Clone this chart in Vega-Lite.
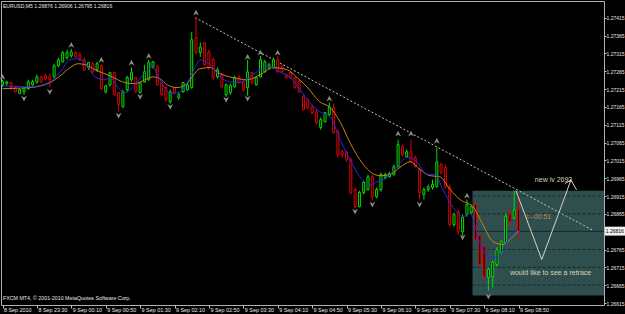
{
  "$schema": "https://vega.github.io/schema/vega-lite/v6.json",
  "width": 603,
  "height": 304,
  "autosize": "none",
  "padding": {"left": 1, "top": 1, "right": 21, "bottom": 9},
  "background": "#000000",
  "view": {"stroke": "#b0b0b0", "strokeWidth": 1, "fill": "#000000"},
  "config": {"font": "Liberation Sans", "axis": {"labelOverlap": false, "labelBound": false, "labelSeparation": 0}},
  "datasets": {
    "bars": [
      {"i":0,"o":1.27227,"h":1.27241,"l":1.27221,"c":1.27235},
      {"i":1,"o":1.27230,"h":1.27238,"l":1.27224,"c":1.27235},
      {"i":2,"o":1.27233,"h":1.27235,"l":1.27213,"c":1.27219},
      {"i":3,"o":1.27219,"h":1.27221,"l":1.27205,"c":1.27207},
      {"i":4,"o":1.27202,"h":1.27216,"l":1.27202,"c":1.27213},
      {"i":5,"o":1.27207,"h":1.27221,"l":1.27199,"c":1.27216},
      {"i":6,"o":1.27216,"h":1.27241,"l":1.27213,"c":1.27235},
      {"i":7,"o":1.27227,"h":1.27241,"l":1.27224,"c":1.27235},
      {"i":8,"o":1.27235,"h":1.27255,"l":1.27230,"c":1.27249},
      {"i":9,"o":1.27249,"h":1.27252,"l":1.27233,"c":1.27235},
      {"i":10,"o":1.27252,"h":1.27258,"l":1.27238,"c":1.27244},
      {"i":11,"o":1.27249,"h":1.27258,"l":1.27219,"c":1.27241},
      {"i":12,"o":1.27249,"h":1.27286,"l":1.27244,"c":1.27280},
      {"i":13,"o":1.27280,"h":1.27303,"l":1.27277,"c":1.27297},
      {"i":14,"o":1.27291,"h":1.27322,"l":1.27289,"c":1.27317},
      {"i":15,"o":1.27303,"h":1.27325,"l":1.27297,"c":1.27317},
      {"i":16,"o":1.27308,"h":1.27328,"l":1.27303,"c":1.27319},
      {"i":17,"o":1.27317,"h":1.27322,"l":1.27303,"c":1.27305},
      {"i":18,"o":1.27311,"h":1.27317,"l":1.27294,"c":1.27297},
      {"i":19,"o":1.27297,"h":1.27303,"l":1.27266,"c":1.27269},
      {"i":20,"o":1.27275,"h":1.27291,"l":1.27269,"c":1.27289},
      {"i":21,"o":1.27286,"h":1.27291,"l":1.27258,"c":1.27263},
      {"i":22,"o":1.27269,"h":1.27291,"l":1.27263,"c":1.27286},
      {"i":23,"o":1.27280,"h":1.27286,"l":1.27213,"c":1.27216},
      {"i":24,"o":1.27207,"h":1.27227,"l":1.27202,"c":1.27224},
      {"i":25,"o":1.27227,"h":1.27263,"l":1.27221,"c":1.27261},
      {"i":26,"o":1.27261,"h":1.27263,"l":1.27196,"c":1.27199},
      {"i":27,"o":1.27205,"h":1.27207,"l":1.27151,"c":1.27171},
      {"i":28,"o":1.27165,"h":1.27213,"l":1.27163,"c":1.27207},
      {"i":29,"o":1.27213,"h":1.27252,"l":1.27207,"c":1.27247},
      {"i":30,"o":1.27241,"h":1.27275,"l":1.27235,"c":1.27261},
      {"i":31,"o":1.27247,"h":1.27249,"l":1.27205,"c":1.27207},
      {"i":32,"o":1.27205,"h":1.27235,"l":1.27202,"c":1.27233},
      {"i":33,"o":1.27235,"h":1.27283,"l":1.27233,"c":1.27263},
      {"i":34,"o":1.27241,"h":1.27297,"l":1.27238,"c":1.27289},
      {"i":35,"o":1.27277,"h":1.27294,"l":1.27272,"c":1.27291},
      {"i":36,"o":1.27277,"h":1.27283,"l":1.27224,"c":1.27227},
      {"i":37,"o":1.27233,"h":1.27235,"l":1.27196,"c":1.27199},
      {"i":38,"o":1.27219,"h":1.27221,"l":1.27179,"c":1.27185},
      {"i":39,"o":1.27179,"h":1.27213,"l":1.27174,"c":1.27207},
      {"i":40,"o":1.27219,"h":1.27221,"l":1.27202,"c":1.27205},
      {"i":41,"o":1.27191,"h":1.27205,"l":1.27185,"c":1.27199},
      {"i":42,"o":1.27207,"h":1.27235,"l":1.27205,"c":1.27233},
      {"i":43,"o":1.27213,"h":1.27233,"l":1.27210,"c":1.27227},
      {"i":44,"o":1.27219,"h":1.27375,"l":1.27216,"c":1.27353},
      {"i":45,"o":1.27359,"h":1.27415,"l":1.27311,"c":1.27317},
      {"i":46,"o":1.27317,"h":1.27345,"l":1.27305,"c":1.27333},
      {"i":47,"o":1.27345,"h":1.27347,"l":1.27280,"c":1.27283},
      {"i":48,"o":1.27319,"h":1.27325,"l":1.27269,"c":1.27275},
      {"i":49,"o":1.27297,"h":1.27303,"l":1.27241,"c":1.27247},
      {"i":50,"o":1.27249,"h":1.27275,"l":1.27244,"c":1.27269},
      {"i":51,"o":1.27255,"h":1.27261,"l":1.27219,"c":1.27221},
      {"i":52,"o":1.27199,"h":1.27230,"l":1.27193,"c":1.27227},
      {"i":53,"o":1.27205,"h":1.27230,"l":1.27199,"c":1.27224},
      {"i":54,"o":1.27221,"h":1.27252,"l":1.27219,"c":1.27247},
      {"i":55,"o":1.27249,"h":1.27255,"l":1.27230,"c":1.27233},
      {"i":56,"o":1.27235,"h":1.27241,"l":1.27207,"c":1.27213},
      {"i":57,"o":1.27219,"h":1.27297,"l":1.27196,"c":1.27263},
      {"i":58,"o":1.27261,"h":1.27263,"l":1.27227,"c":1.27233},
      {"i":59,"o":1.27227,"h":1.27252,"l":1.27224,"c":1.27247},
      {"i":60,"o":1.27249,"h":1.27308,"l":1.27247,"c":1.27297},
      {"i":61,"o":1.27263,"h":1.27297,"l":1.27261,"c":1.27291},
      {"i":62,"o":1.27275,"h":1.27289,"l":1.27269,"c":1.27283},
      {"i":63,"o":1.27275,"h":1.27303,"l":1.27272,"c":1.27297},
      {"i":64,"o":1.27297,"h":1.27308,"l":1.27261,"c":1.27263},
      {"i":65,"o":1.27277,"h":1.27283,"l":1.27261,"c":1.27263},
      {"i":66,"o":1.27255,"h":1.27258,"l":1.27244,"c":1.27247},
      {"i":67,"o":1.27261,"h":1.27263,"l":1.27244,"c":1.27247},
      {"i":68,"o":1.27247,"h":1.27249,"l":1.27216,"c":1.27219},
      {"i":69,"o":1.27235,"h":1.27241,"l":1.27205,"c":1.27207},
      {"i":70,"o":1.27193,"h":1.27199,"l":1.27154,"c":1.27157},
      {"i":71,"o":1.27185,"h":1.27188,"l":1.27157,"c":1.27163},
      {"i":72,"o":1.27165,"h":1.27171,"l":1.27143,"c":1.27149},
      {"i":73,"o":1.27151,"h":1.27157,"l":1.27115,"c":1.27121},
      {"i":74,"o":1.27107,"h":1.27135,"l":1.27101,"c":1.27129},
      {"i":75,"o":1.27123,"h":1.27151,"l":1.27121,"c":1.27149},
      {"i":76,"o":1.27143,"h":1.27177,"l":1.27140,"c":1.27165},
      {"i":77,"o":1.27163,"h":1.27174,"l":1.27090,"c":1.27093},
      {"i":78,"o":1.27095,"h":1.27101,"l":1.27023,"c":1.27031},
      {"i":79,"o":1.27039,"h":1.27045,"l":1.27023,"c":1.27031},
      {"i":80,"o":1.27037,"h":1.27042,"l":1.27011,"c":1.27017},
      {"i":81,"o":1.27017,"h":1.27023,"l":1.26919,"c":1.26925},
      {"i":82,"o":1.26933,"h":1.26939,"l":1.26880,"c":1.26885},
      {"i":83,"o":1.26885,"h":1.26930,"l":1.26883,"c":1.26925},
      {"i":84,"o":1.26925,"h":1.26958,"l":1.26919,"c":1.26953},
      {"i":85,"o":1.26933,"h":1.26975,"l":1.26930,"c":1.26969},
      {"i":86,"o":1.26969,"h":1.26975,"l":1.26902,"c":1.26913},
      {"i":87,"o":1.26913,"h":1.26939,"l":1.26908,"c":1.26933},
      {"i":88,"o":1.26933,"h":1.26981,"l":1.26927,"c":1.26975},
      {"i":89,"o":1.26967,"h":1.26981,"l":1.26961,"c":1.26975},
      {"i":90,"o":1.26969,"h":1.26983,"l":1.26967,"c":1.26978},
      {"i":91,"o":1.26975,"h":1.27003,"l":1.26972,"c":1.26997},
      {"i":92,"o":1.26997,"h":1.27073,"l":1.26995,"c":1.27059},
      {"i":93,"o":1.27053,"h":1.27059,"l":1.27025,"c":1.27031},
      {"i":94,"o":1.27025,"h":1.27045,"l":1.27023,"c":1.27039},
      {"i":95,"o":1.27039,"h":1.27073,"l":1.27009,"c":1.27011},
      {"i":96,"o":1.27023,"h":1.27028,"l":1.26995,"c":1.26997},
      {"i":97,"o":1.26989,"h":1.26995,"l":1.26905,"c":1.26925},
      {"i":98,"o":1.26919,"h":1.26939,"l":1.26905,"c":1.26933},
      {"i":99,"o":1.26933,"h":1.26947,"l":1.26927,"c":1.26941},
      {"i":100,"o":1.26939,"h":1.26961,"l":1.26933,"c":1.26947},
      {"i":101,"o":1.26941,"h":1.27051,"l":1.26939,"c":1.27011},
      {"i":102,"o":1.27003,"h":1.27009,"l":1.26975,"c":1.26981},
      {"i":103,"o":1.26995,"h":1.27003,"l":1.26936,"c":1.26941},
      {"i":104,"o":1.26941,"h":1.26947,"l":1.26829,"c":1.26835},
      {"i":105,"o":1.26835,"h":1.26869,"l":1.26829,"c":1.26863},
      {"i":106,"o":1.26871,"h":1.26877,"l":1.26807,"c":1.26815},
      {"i":107,"o":1.26815,"h":1.26863,"l":1.26804,"c":1.26855},
      {"i":108,"o":1.26863,"h":1.26905,"l":1.26857,"c":1.26891},
      {"i":109,"o":1.26869,"h":1.26891,"l":1.26863,"c":1.26885},
      {"i":110,"o":1.26891,"h":1.26897,"l":1.26787,"c":1.26793},
      {"i":111,"o":1.26804,"h":1.26810,"l":1.26715,"c":1.26723},
      {"i":112,"o":1.26773,"h":1.26779,"l":1.26681,"c":1.26689},
      {"i":113,"o":1.26687,"h":1.26715,"l":1.26650,"c":1.26709},
      {"i":114,"o":1.26689,"h":1.26734,"l":1.26659,"c":1.26729},
      {"i":115,"o":1.26723,"h":1.26771,"l":1.26717,"c":1.26765},
      {"i":116,"o":1.26757,"h":1.26793,"l":1.26751,"c":1.26787},
      {"i":117,"o":1.26785,"h":1.26866,"l":1.26779,"c":1.26857},
      {"i":118,"o":1.26863,"h":1.26883,"l":1.26829,"c":1.26843},
      {"i":119,"o":1.26855,"h":1.26930,"l":1.26849,"c":1.26876},
      {"i":120,"o":1.26876,"h":1.26906,"l":1.26795,"c":1.26816}
    ],
    "ma": [
      {"i":0,"p":1.27216,"s":"slow"},{"i":6.4,"p":1.27219,"s":"slow"},{"i":11.05,"p":1.27233,"s":"slow"},{"i":13.4,"p":1.27252,"s":"slow"},{"i":15.7,"p":1.27275,"s":"slow"},{"i":17.6,"p":1.27286,"s":"slow"},{"i":19.2,"p":1.27283,"s":"slow"},{"i":21.5,"p":1.27269,"s":"slow"},{"i":25.0,"p":1.27252,"s":"slow"},{"i":28.5,"p":1.27233,"s":"slow"},{"i":30.8,"p":1.27230,"s":"slow"},{"i":33.1,"p":1.27241,"s":"slow"},{"i":35.0,"p":1.27249,"s":"slow"},{"i":36.6,"p":1.27244,"s":"slow"},{"i":38.3,"p":1.27227,"s":"slow"},{"i":40.6,"p":1.27219,"s":"slow"},{"i":42.9,"p":1.27230,"s":"slow"},{"i":44.1,"p":1.27249,"s":"slow"},{"i":45.9,"p":1.27272,"s":"slow"},{"i":48.3,"p":1.27275,"s":"slow"},{"i":50.6,"p":1.27258,"s":"slow"},{"i":53.6,"p":1.27247,"s":"slow"},{"i":56.9,"p":1.27241,"s":"slow"},{"i":59.9,"p":1.27255,"s":"slow"},{"i":62.9,"p":1.27275,"s":"slow"},{"i":66.2,"p":1.27269,"s":"slow"},{"i":68.5,"p":1.27247,"s":"slow"},{"i":70.8,"p":1.27221,"s":"slow"},{"i":73.8,"p":1.27179,"s":"slow"},{"i":76.2,"p":1.27163,"s":"slow"},{"i":78.5,"p":1.27123,"s":"slow"},{"i":80.8,"p":1.27065,"s":"slow"},{"i":83.1,"p":1.27017,"s":"slow"},{"i":85.5,"p":1.26983,"s":"slow"},{"i":87.8,"p":1.26972,"s":"slow"},{"i":90.1,"p":1.26975,"s":"slow"},{"i":92.4,"p":1.26995,"s":"slow"},{"i":94.8,"p":1.27011,"s":"slow"},{"i":97.1,"p":1.26989,"s":"slow"},{"i":99.4,"p":1.26972,"s":"slow"},{"i":101.7,"p":1.26969,"s":"slow"},{"i":104.1,"p":1.26933,"s":"slow"},{"i":106.4,"p":1.26905,"s":"slow"},{"i":109.4,"p":1.26885,"s":"slow"},{"i":111.7,"p":1.26835,"s":"slow"},{"i":114.1,"p":1.26787,"s":"slow"},{"i":116.4,"p":1.26779,"s":"slow"},{"i":118.0,"p":1.26793,"s":"slow"},{"i":120,"p":1.26818,"s":"slow"},
      {"i":0,"p":1.27224,"s":"fast"},{"i":6.4,"p":1.27221,"s":"fast"},{"i":11.05,"p":1.27235,"s":"fast"},{"i":13.4,"p":1.27263,"s":"fast"},{"i":15.7,"p":1.27297,"s":"fast"},{"i":17.6,"p":1.27300,"s":"fast"},{"i":19.2,"p":1.27289,"s":"fast"},{"i":21.5,"p":1.27249,"s":"fast"},{"i":23.8,"p":1.27241,"s":"fast"},{"i":25.0,"p":1.27247,"s":"fast"},{"i":27.3,"p":1.27213,"s":"fast"},{"i":28.5,"p":1.27205,"s":"fast"},{"i":30.8,"p":1.27227,"s":"fast"},{"i":33.1,"p":1.27261,"s":"fast"},{"i":34.8,"p":1.27277,"s":"fast"},{"i":36.6,"p":1.27241,"s":"fast"},{"i":39.0,"p":1.27202,"s":"fast"},{"i":41.3,"p":1.27207,"s":"fast"},{"i":43.6,"p":1.27247,"s":"fast"},{"i":44.8,"p":1.27277,"s":"fast"},{"i":45.9,"p":1.27297,"s":"fast"},{"i":48.3,"p":1.27283,"s":"fast"},{"i":50.6,"p":1.27249,"s":"fast"},{"i":52.9,"p":1.27235,"s":"fast"},{"i":55.2,"p":1.27233,"s":"fast"},{"i":57.6,"p":1.27249,"s":"fast"},{"i":59.9,"p":1.27269,"s":"fast"},{"i":62.2,"p":1.27277,"s":"fast"},{"i":64.5,"p":1.27263,"s":"fast"},{"i":66.9,"p":1.27247,"s":"fast"},{"i":69.2,"p":1.27213,"s":"fast"},{"i":71.5,"p":1.27177,"s":"fast"},{"i":73.8,"p":1.27151,"s":"fast"},{"i":76.2,"p":1.27137,"s":"fast"},{"i":78.5,"p":1.27073,"s":"fast"},{"i":80.8,"p":1.27017,"s":"fast"},{"i":83.1,"p":1.26969,"s":"fast"},{"i":85.5,"p":1.26947,"s":"fast"},{"i":87.1,"p":1.26955,"s":"fast"},{"i":89.4,"p":1.26967,"s":"fast"},{"i":91.7,"p":1.26997,"s":"fast"},{"i":94.1,"p":1.27023,"s":"fast"},{"i":96.4,"p":1.27011,"s":"fast"},{"i":98.7,"p":1.26975,"s":"fast"},{"i":100.6,"p":1.26975,"s":"fast"},{"i":102.4,"p":1.26933,"s":"fast"},{"i":104.8,"p":1.26883,"s":"fast"},{"i":107.1,"p":1.26857,"s":"fast"},{"i":108.7,"p":1.26866,"s":"fast"},{"i":111.0,"p":1.26785,"s":"fast"},{"i":113.4,"p":1.26743,"s":"fast"},{"i":115.0,"p":1.26743,"s":"fast"},{"i":116.4,"p":1.26765,"s":"fast"},{"i":118.0,"p":1.26801,"s":"fast"},{"i":120,"p":1.26818,"s":"fast"}
    ],
    "fu": [
      {"i":0,"p":1.27249},{"i":16,"p":1.27339},{"i":23,"p":1.27297},{"i":30,"p":1.27289},{"i":34,"p":1.27308},{"i":45,"p":1.27429},{"i":57,"p":1.27305},{"i":60,"p":1.27317},{"i":64,"p":1.27317},{"i":76,"p":1.27188},{"i":92,"p":1.27090},{"i":95,"p":1.27090},{"i":101,"p":1.27070},{"i":108,"p":1.26916}
    ],
    "fd": [
      {"i":5,"p":1.27188},{"i":11,"p":1.27207},{"i":27,"p":1.27140},{"i":32,"p":1.27193},{"i":39,"p":1.27165},{"i":52,"p":1.27185},{"i":57,"p":1.27188},{"i":82,"p":1.26871},{"i":86,"p":1.26891},{"i":97,"p":1.26891},{"i":107,"p":1.26799},{"i":113,"p":1.26633}
    ],
    "zone": [{"a":109.3,"b":139.88,"top":1.2693,"bot":1.26636}],
    "grid": [{"p":1.26665,"a":109.3,"b":139.88},{"p":1.26715,"a":109.3,"b":139.88},{"p":1.26765,"a":109.3,"b":139.88},{"p":1.26865,"a":109.3,"b":139.88},{"p":1.26915,"a":109.3,"b":139.88}],
    "bidline": [{"p":1.26816,"a":109.3,"b":139.88}],
    "bid": [{"p":1.26816,"t":"1.26816","a":140.1,"b":145.2,"top":1.26829,"bot":1.26804,"x":140.3}],
    "trend": [{"i":44.8,"p":1.27415},{"i":137.1,"p":1.2682}],
    "sketch": [
      {"seg":0,"k":0,"i":119.4,"p":1.2693},{"seg":0,"k":1,"i":125.4,"p":1.26737},{"seg":0,"k":2,"i":132.2,"p":1.2696},
      {"seg":1,"k":0,"i":130.8,"p":1.2695},{"seg":1,"k":1,"i":132.2,"p":1.2696},{"seg":1,"k":2,"i":133.5,"p":1.26932}
    ],
    "notesA": [{"i":123.8,"p":1.26961,"t":"new lv 2693"},{"i":118.0,"p":1.26698,"t":"would like to see a retrace"}],
    "notesB": [{"i":121.5,"p":1.26855,"t":"<--00:51"}],
    "notesT": [{"i":0.1,"p":1.27448,"t":"EURUSD,M5  1.26876 1.26906 1.26795 1.26816"}],
    "notesC": [{"i":0.1,"p":1.26628,"t":"FXCM MT4, © 2001-2010 MetaQuotes Software Corp."}]
  },
  "layer": [
    {
      "data": {"name": "zone"},
      "mark": {"type": "rect", "fill": "#2f4f4f"},
      "encoding": {
        "x": {"field": "a", "type": "quantitative", "title": null, "scale": {"domain": [-0.349, 139.88], "nice": false, "zero": false, "padding": 0},
          "axis": {"values": [0,8,16,24,32,40,48,56,64,72,80,88,96,104,112,120], "tickCount": 40, "title": null, "grid": false, "domain": false,
            "labelExpr": "datum.value == 0 ? '8 Sep 2010' : datum.value == 8 ? '8 Sep 23:30' : '9 Sep ' + pad('' + floor((datum.value * 5 - 70) / 60), 2, '0', 'left') + ':' + pad('' + ((datum.value * 5 - 70) % 60), 2, '0', 'left')",
            "tickColor": "#c0c0c0", "tickSize": 3, "labelColor": "#e8e8e8", "labelFont": "Liberation Sans", "labelFontSize": 5.4,
            "labelAlign": "left", "labelBaseline": "top", "labelPadding": -1, "labelOffset": 1, "labelOverlap": false, "labelFlush": false, "labelBound": false}},
        "x2": {"field": "b"},
        "y": {"field": "top", "type": "quantitative", "title": null, "scale": {"domain": [1.266094, 1.274618], "nice": false, "zero": false, "padding": 0},
          "axis": {"orient": "right", "values": [1.26615,1.26665,1.26715,1.26765,1.26815,1.26865,1.26915,1.26965,1.27015,1.27065,1.27115,1.27165,1.27215,1.27265,1.27315,1.27365,1.27415],
            "tickCount": 40, "format": ".5f", "title": null, "grid": false, "domain": false, "tickColor": "#c0c0c0", "tickSize": 2,
            "labelColor": "#e8e8e8", "labelFont": "Liberation Sans", "labelFontSize": 5, "labelPadding": 0, "labelOverlap": false, "labelBound": false, "labelFlush": false, "labelSeparation": 0}},
        "y2": {"field": "bot"}
      }
    },
    {
      "data": {"name": "grid"},
      "mark": {"type": "rule", "stroke": "#142626", "strokeDash": [3, 2], "strokeWidth": 1},
      "encoding": {
        "x": {"field": "a", "type": "quantitative", "title": null},
        "x2": {"field": "b"},
        "y": {"field": "p", "type": "quantitative", "title": null}
      }
    },
    {
      "data": {"name": "bidline"},
      "mark": {"type": "rule", "stroke": "#142626", "strokeWidth": 1},
      "encoding": {
        "x": {"field": "a", "type": "quantitative", "title": null},
        "x2": {"field": "b"},
        "y": {"field": "p", "type": "quantitative", "title": null}
      }
    },
    {
      "data": {"name": "trend"},
      "mark": {"type": "line", "stroke": "#c8c8b0", "strokeDash": [2, 2], "strokeWidth": 1},
      "encoding": {
        "x": {"field": "i", "type": "quantitative", "title": null},
        "y": {"field": "p", "type": "quantitative", "title": null}
      }
    },
    {
      "data": {"name": "bars"},
      "mark": {"type": "rule", "strokeWidth": 1},
      "encoding": {
        "x": {"field": "i", "type": "quantitative", "title": null},
        "y": {"field": "l", "type": "quantitative", "title": null},
        "y2": {"field": "h"},
        "color": {"condition": {"test": "datum.c >= datum.o", "value": "#00e000"}, "value": "#e00000"}
      }
    },
    {
      "data": {"name": "bars"},
      "mark": {"type": "bar", "orient": "vertical", "size": 2, "fill": "#000000", "strokeWidth": 1},
      "encoding": {
        "x": {"field": "i", "type": "quantitative", "title": null},
        "y": {"field": "o", "type": "quantitative", "title": null},
        "y2": {"field": "c"},
        "stroke": {"condition": {"test": "datum.c >= datum.o", "value": "#00e000"}, "value": "#e00000"}
      }
    },
    {
      "data": {"name": "ma"},
      "mark": {"type": "line", "strokeWidth": 1, "interpolate": "monotone"},
      "encoding": {
        "x": {"field": "i", "type": "quantitative", "title": null},
        "y": {"field": "p", "type": "quantitative", "title": null},
        "color": {"field": "s", "type": "nominal", "scale": {"domain": ["slow", "fast"], "range": ["#c88018", "#2828e8"]}, "legend": null}
      }
    },
    {
      "data": {"name": "fu"},
      "mark": {"type": "point", "shape": "M0,-1L1,1L0,0.4L-1,1Z", "filled": true, "size": 34, "color": "#8c8c8c", "opacity": 1},
      "encoding": {
        "x": {"field": "i", "type": "quantitative", "title": null},
        "y": {"field": "p", "type": "quantitative", "title": null}
      }
    },
    {
      "data": {"name": "fd"},
      "mark": {"type": "point", "shape": "M0,1L1,-1L0,-0.4L-1,-1Z", "filled": true, "size": 34, "color": "#8c8c8c", "opacity": 1},
      "encoding": {
        "x": {"field": "i", "type": "quantitative", "title": null},
        "y": {"field": "p", "type": "quantitative", "title": null}
      }
    },
    {
      "data": {"name": "sketch"},
      "mark": {"type": "line", "stroke": "#d4d4bc", "strokeWidth": 1},
      "encoding": {
        "x": {"field": "i", "type": "quantitative", "title": null},
        "y": {"field": "p", "type": "quantitative", "title": null},
        "detail": {"field": "seg", "type": "nominal"},
        "order": {"field": "k", "type": "quantitative"}
      }
    },
    {
      "data": {"name": "notesA"},
      "mark": {"type": "text", "align": "left", "baseline": "middle", "font": "Liberation Sans", "fontSize": 7, "fill": "#d2d2b4"},
      "encoding": {
        "x": {"field": "i", "type": "quantitative", "title": null},
        "y": {"field": "p", "type": "quantitative", "title": null},
        "text": {"field": "t"}
      }
    },
    {
      "data": {"name": "notesB"},
      "mark": {"type": "text", "align": "left", "baseline": "middle", "font": "Liberation Sans", "fontSize": 7, "fill": "#d08840"},
      "encoding": {
        "x": {"field": "i", "type": "quantitative", "title": null},
        "y": {"field": "p", "type": "quantitative", "title": null},
        "text": {"field": "t"}
      }
    },
    {
      "data": {"name": "notesT"},
      "mark": {"type": "text", "align": "left", "baseline": "middle", "font": "Liberation Sans", "fontSize": 5.1, "fill": "#e8e8e8"},
      "encoding": {
        "x": {"field": "i", "type": "quantitative", "title": null},
        "y": {"field": "p", "type": "quantitative", "title": null},
        "text": {"field": "t"}
      }
    },
    {
      "data": {"name": "notesC"},
      "mark": {"type": "text", "align": "left", "baseline": "middle", "font": "Liberation Sans", "fontSize": 5.3, "fill": "#e8e8e8"},
      "encoding": {
        "x": {"field": "i", "type": "quantitative", "title": null},
        "y": {"field": "p", "type": "quantitative", "title": null},
        "text": {"field": "t"}
      }
    },
    {
      "data": {"name": "bid"},
      "mark": {"type": "rect", "fill": "#f0f0f0"},
      "encoding": {
        "x": {"field": "a", "type": "quantitative", "title": null},
        "x2": {"field": "b"},
        "y": {"field": "top", "type": "quantitative", "title": null},
        "y2": {"field": "bot"}
      }
    },
    {
      "data": {"name": "bid"},
      "mark": {"type": "text", "align": "left", "baseline": "middle", "font": "Liberation Sans", "fontSize": 5, "fill": "#000000"},
      "encoding": {
        "x": {"field": "x", "type": "quantitative", "title": null},
        "y": {"field": "p", "type": "quantitative", "title": null},
        "text": {"field": "t"}
      }
    }
  ]
}
